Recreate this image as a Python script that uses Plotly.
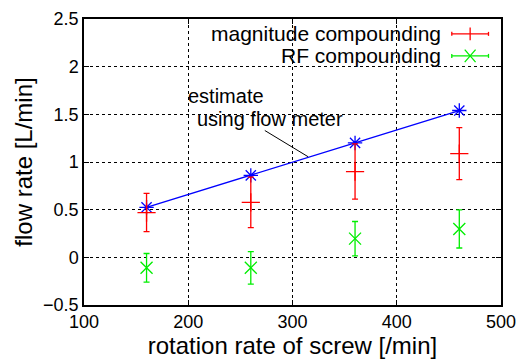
import plotly.graph_objects as go

screw_rate = [160, 260, 360, 460]
flow_meter = [0.525, 0.86, 1.2, 1.54]
magnitude = [0.47, 0.577, 0.90, 1.088]
magnitude_err = [0.2, 0.265, 0.29, 0.272]
rf = [-0.11, -0.11, 0.196, 0.298]
rf_err = [0.15, 0.17, 0.18, 0.2]

FONT = "Liberation Sans, Arial, Helvetica, sans-serif"

fig = go.Figure()
fig.add_trace(go.Scatter(
    x=screw_rate, y=flow_meter, mode="lines+markers",
    line=dict(color="#0000ff", width=1.3),
    marker=dict(symbol="asterisk-open", size=12, color="#0000ff", line=dict(width=1.3, color="#0000ff")),
    showlegend=False))
fig.add_trace(go.Scatter(
    x=screw_rate, y=magnitude, mode="markers",
    marker=dict(symbol="cross-thin-open", size=13, color="#ff0000", line=dict(width=1.3, color="#ff0000")),
    error_y=dict(type="data", array=magnitude_err, color="#ff0000", thickness=1.3, width=3),
    showlegend=False))
fig.add_trace(go.Scatter(
    x=screw_rate, y=rf, mode="markers",
    marker=dict(symbol="x-thin-open", size=12, color="#00ee00", line=dict(width=1.3, color="#00ee00")),
    error_y=dict(type="data", array=rf_err, color="#00ee00", thickness=1.3, width=3),
    showlegend=False))

axis_common = dict(
    showline=True, linecolor="black", linewidth=1.5, mirror="ticks",
    ticks="inside", ticklen=5, tickcolor="black",
    showgrid=True, gridcolor="black", griddash="dot", gridwidth=0.8,
    zeroline=False, tickfont=dict(family=FONT, size=18, color="black"),
    automargin=False,
)
fig.update_xaxes(range=[100, 500], dtick=100, tick0=100,
                 title=dict(text="rotation rate of screw [/min]", font=dict(family=FONT, size=24, color="black"), standoff=2),
                 **axis_common)
fig.update_yaxes(range=[-0.5, 2.5], dtick=0.5, tick0=-0.5,
                 title=dict(text="flow rate [L/min]", font=dict(family=FONT, size=24, color="black"), standoff=4),
                 **axis_common)

# legend drawn manually (text left of sample)
legend_items = [("magnitude compounding", "#ff0000", "plus", 0.948), ("RF compounding", "#00ee00", "x", 0.871)]
shapes = []
annotations = []
x0, x1 = 0.882, 0.97
for label, col, kind, yp in legend_items:
    annotations.append(dict(xref="paper", yref="paper", x=0.862, y=yp, text=label, showarrow=False,
                            xanchor="right", yanchor="middle", font=dict(family=FONT, size=21, color="black")))
    shapes.append(dict(type="line", xref="paper", yref="paper", x0=x0, x1=x1, y0=yp, y1=yp,
                       line=dict(color=col, width=1.3)))
    for xc in (x0, x1):
        shapes.append(dict(type="line", xref="paper", yref="paper", x0=xc, x1=xc, y0=yp - 0.007, y1=yp + 0.007,
                           line=dict(color=col, width=1.3)))
    xm = (x0 + x1) / 2
    if kind == "plus":
        shapes.append(dict(type="line", xref="paper", yref="paper", x0=xm, x1=xm, y0=yp - 0.022, y1=yp + 0.022,
                           line=dict(color=col, width=1.3)))
    else:
        dx, dy = 0.013, 0.022
        shapes.append(dict(type="line", xref="paper", yref="paper", x0=xm - dx, x1=xm + dx, y0=yp - dy, y1=yp + dy,
                           line=dict(color=col, width=1.3)))
        shapes.append(dict(type="line", xref="paper", yref="paper", x0=xm - dx, x1=xm + dx, y0=yp + dy, y1=yp - dy,
                           line=dict(color=col, width=1.3)))

annotations.append(dict(x=315, y=1.055, xref="x", yref="y", ax=272, ay=1.34, axref="x", ayref="y",
                        text="", showarrow=True, arrowhead=0, arrowwidth=1, arrowcolor="black"))
annotations.append(dict(x=0.245, y=0.731, xref="paper", yref="paper", showarrow=False,
                        text="estimate", xanchor="left", yanchor="middle",
                        font=dict(family=FONT, size=20, color="black")))
annotations.append(dict(x=0.266, y=0.650, xref="paper", yref="paper", showarrow=False,
                        text="using flow meter", xanchor="left", yanchor="middle",
                        font=dict(family=FONT, size=20, color="black")))

fig.update_layout(
    width=519, height=360,
    margin=dict(l=84, r=18, t=19, b=55),
    paper_bgcolor="white", plot_bgcolor="white",
    shapes=shapes, annotations=annotations,
)
fig.write_html("out.html", config={"displayModeBar": False},
               post_script="document.body.style.margin='0';document.body.style.padding='0';")
